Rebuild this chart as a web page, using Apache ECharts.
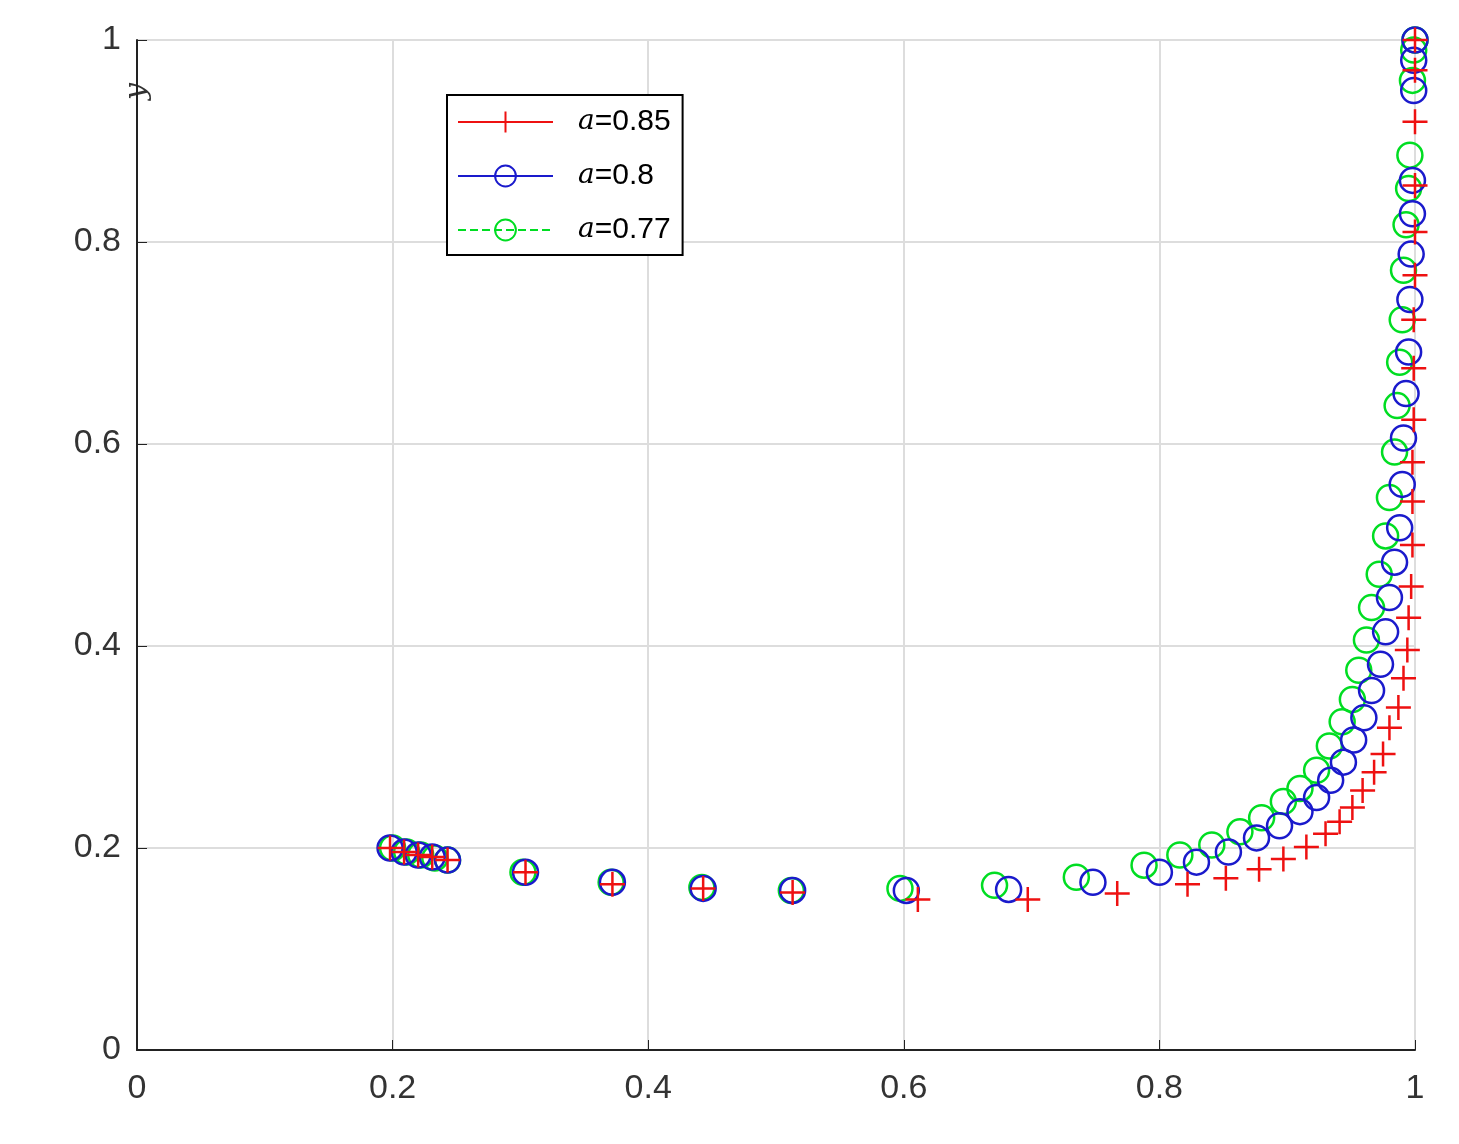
<!DOCTYPE html>
<html><head><meta charset="utf-8">
<script src="https://cdn.jsdelivr.net/npm/echarts@6/dist/echarts.min.js"></script>
<style>html,body{margin:0;background:#fff}#c{width:1459px;height:1144px}</style>
</head><body><div id="c"></div>
<script>
const redX = [.198,.209,.220,.231,.243,.304,.372,.443,.513,.611,.697,.767,.822,.852,.878,.897,.915,.930,.941,.951,.959,.968,.975,.980,.987,.991,.994,.995,.997,.998,.998,.998,.999,.999,.999,1,1,1,1,1,1];
const redY = [.200,.196,.193,.191,.188,.176,.164,.160,.156,.149,.149,.155,.164,.170,.179,.189,.201,.214,.226,.240,.257,.275,.293,.319,.339,.368,.396,.428,.459,.500,.543,.582,.624,.675,.723,.767,.810,.856,.919,.97,1.0];
const blueX = [.198,.209,.220,.231,.243,.304,.372,.443,.513,.602,.682,.748,.800,.829,.854,.876,.894,.910,.923,.934,.944,.952,.960,.966,.973,.977,.980,.984,.988,.990,.991,.993,.995,.996,.997,.998,.998,.999,.999,1];
const blueY = [.200,.196,.193,.191,.188,.176,.166,.160,.158,.158,.159,.166,.176,.186,.196,.210,.222,.236,.250,.267,.285,.307,.329,.356,.382,.414,.448,.483,.517,.560,.606,.650,.691,.743,.788,.828,.861,.950,.98,1.0];
const greenX = [.200,.211,.222,.233,.243,.302,.371,.442,.512,.597,.671,.735,.788,.816,.841,.863,.880,.897,.910,.923,.933,.943,.951,.956,.962,.966,.972,.977,.980,.984,.986,.988,.990,.991,.993,.995,.996,.998,.999,1];
const greenY = [.200,.196,.193,.190,.188,.176,.166,.161,.158,.160,.163,.171,.183,.193,.203,.216,.230,.246,.259,.277,.301,.325,.347,.376,.406,.438,.471,.509,.547,.592,.638,.681,.723,.772,.817,.853,.886,.960,.99,1.0];
const labels = ['a=0.85','a=0.8','a=0.77'];

const zip = (xs, ys) => xs.map((x, i) => [x, ys[i]]);
const plus = 'path://M0,5 L10,5 M5,0 L5,10';
const font = 'Liberation Sans';

const mk = (name, data, color, symbol, dashed) => ({
  name: name, type: 'line', data: data,
  symbol: symbol, symbolSize: 25,
  lineStyle: {opacity: 0, color: color, width: 2.5, type: dashed ? 'dashed' : 'solid'},
  itemStyle: {color: symbol === 'circle' ? 'rgba(0,0,0,0)' : color, borderColor: color, borderWidth: 2.5},
  emphasis: {disabled: true}, z: name === labels[0] ? 4 : (name === labels[1] ? 3 : 2)
});

const chart = echarts.init(document.getElementById('c'));
chart.setOption({
  animation: false,
  grid: {left: 137, right: 44, top: 40, bottom: 94},
  legend: {
    left: 447, top: 95, orient: 'vertical', itemWidth: 95, itemHeight: 26, itemGap: 24,
    padding: [12, 12, 10, 10], borderColor: '#000', borderWidth: 2, borderRadius: 0, backgroundColor: '#fff',
    textStyle: {fontFamily: font, fontSize: 30, color: '#000', padding: [0, 0, 0, 20],
      rich: {i: {fontFamily: 'DejaVu Serif', fontStyle: 'italic', fontSize: 28, color: '#000'}}},
    formatter: n => '{i|a}=' + n.slice(2),
    data: labels.map(n => ({name: n, lineStyle: {opacity: 1}}))
  },
  xAxis: {
    type: 'value', min: 0, max: 1, interval: 0.2,
    axisLine: {lineStyle: {color: '#222', width: 2}},
    axisTick: {show: true, inside: true, length: 10, lineStyle: {color: '#222'}},
    splitLine: {lineStyle: {color: '#ddd', width: 2}},
    axisLabel: {fontFamily: font, fontSize: 34, color: '#333', margin: 22, formatter: v => String(+v.toFixed(1))}
  },
  yAxis: {
    type: 'value', min: 0, max: 1, interval: 0.2,
    name: 'y', nameLocation: 'end', nameRotate: 90, nameGap: -60,
    nameTextStyle: {fontFamily: 'DejaVu Serif', fontStyle: 'italic', fontSize: 30, color: '#333', padding: [0, 0, 190, 0]},
    axisLine: {lineStyle: {color: '#222', width: 2}},
    axisTick: {show: true, inside: true, length: 10, lineStyle: {color: '#222'}},
    splitLine: {lineStyle: {color: '#ddd', width: 2}},
    axisLabel: {fontFamily: font, fontSize: 34, color: '#333', margin: 16, formatter: v => String(+v.toFixed(1))}
  },
  series: [
    mk(labels[2], zip(greenX, greenY), '#00dd22', 'circle', true),
    mk(labels[1], zip(blueX, blueY), '#1a1acc', 'circle', false),
    mk(labels[0], zip(redX, redY), '#ee1111', plus, false)
  ]
});
</script></body></html>
